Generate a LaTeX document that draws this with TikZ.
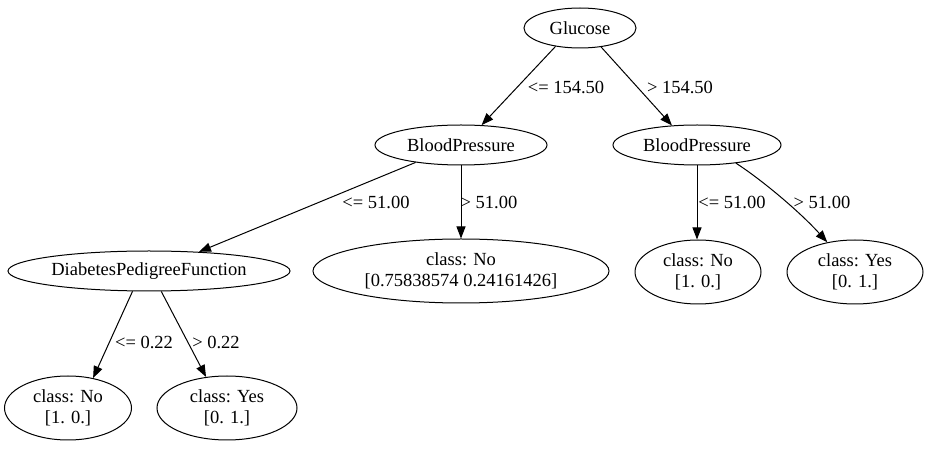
\documentclass[tikz,border=0pt]{standalone}
\usepackage{fontspec}
\setmainfont{Liberation Serif}
\newfontfamily\treefont{Liberation Serif}
\usetikzlibrary{shapes.geometric,arrows.meta}
\begin{document}
\begin{tikzpicture}[x=1pt,y=-1pt,
  every node/.style={font=\treefont\fontsize{18.5}{21}\selectfont},
  tnode/.style={ellipse,draw,line width=1pt,inner sep=0pt,align=center},
  edge/.style={line width=1pt,-{Triangle[length=12pt,width=9pt]}},
  lbl/.style={inner sep=0pt}]
\useasboundingbox (0,0) rectangle (930,454);
\node[tnode,minimum width=112pt,minimum height=40pt] (glu) at (580,28) {Glucose};
\node[tnode,minimum width=172pt,minimum height=40pt] (bpl) at (461,145) {BloodPressure};
\node[tnode,minimum width=168pt,minimum height=40pt] (bpr) at (697,145) {BloodPressure};
\node[tnode,minimum width=282pt,minimum height=40pt] (dpf) at (149,271) {DiabetesPedigreeFunction};
\node[tnode,minimum width=296pt,minimum height=64pt] (mid) at (461,271) {class: No\\{}[0.75838574 0.24161426]};
\node[tnode,minimum width=126pt,minimum height=64pt] (rno) at (698,272) {class: No\\{}[1. 0.]};
\node[tnode,minimum width=136pt,minimum height=64pt] (ryes) at (855,272) {class: Yes\\{}[0. 1.]};
\node[tnode,minimum width=127pt,minimum height=64pt] (lno) at (68,408) {class: No\\{}[1. 0.]};
\node[tnode,minimum width=140pt,minimum height=64pt] (lyes) at (227,408) {class: Yes\\{}[0. 1.]};

\draw[edge] (glu.217) -- (bpl.44);
\draw[edge] (glu.318) -- (bpr.142);
\draw[edge] (bpl.201) -- (dpf.21);
\draw[edge] (bpl.south) -- (mid.north);
\draw[edge] (bpr.south) -- (rno.north -| bpr.south);
\draw[edge] (bpr.335) .. controls (762,180) and (800,212) .. (ryes.133);
\draw[edge] (dpf.231) -- (lno.50);
\draw[edge] (dpf.301) -- (lyes.124);

\node[lbl] (l1) at (566,87) {<= 154.50};
\node[lbl] (l2) at (680,87) {> 154.50};
\node[lbl] (l3) at (376,202) {<= 51.00};
\node[lbl] (l4) at (489,202) {> 51.00};
\node[lbl] (l5) at (732,202) {<= 51.00};
\node[lbl] (l6) at (822,202) {> 51.00};
\node[lbl] (l7) at (144,342) {<= 0.22};
\node[lbl] (l8) at (216,342) {> 0.22};
\end{tikzpicture}
\end{document}
